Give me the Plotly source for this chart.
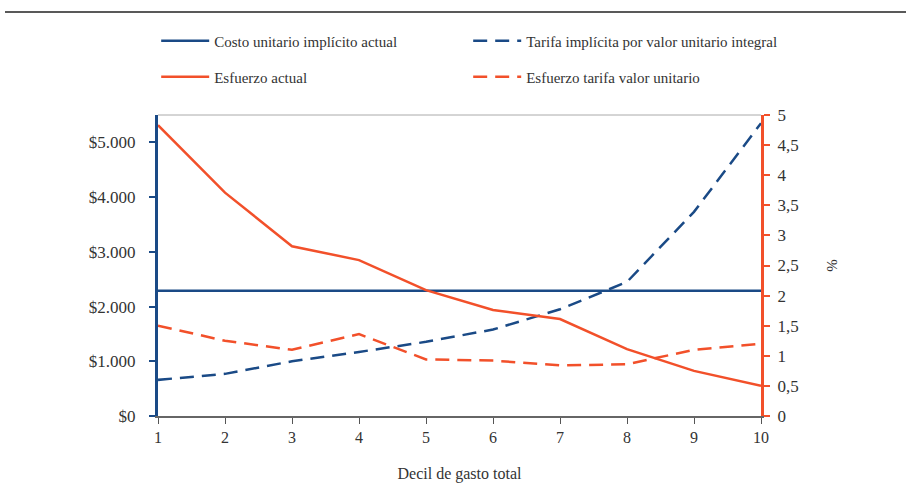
import plotly.graph_objects as go

deciles = [1, 2, 3, 4, 5, 6, 7, 8, 9, 10]
costo_actual = [2290, 2290, 2290, 2290, 2290, 2290, 2290, 2290, 2290, 2290]
tarifa_integral = [660, 770, 1000, 1170, 1355, 1580, 1950, 2450, 3730, 5350]
esfuerzo_actual = [4.83, 3.71, 2.82, 2.59, 2.09, 1.76, 1.61, 1.11, 0.75, 0.50]
esfuerzo_tarifa = [1.50, 1.25, 1.10, 1.36, 0.94, 0.92, 0.84, 0.86, 1.10, 1.20]
y_left_ticks = [0, 1000, 2000, 3000, 4000, 5000]
y_left_labels = ["$0", "$1.000", "$2.000", "$3.000", "$4.000", "$5.000"]

BLUE = "#1A4A86"
ORANGE = "#F2502A"
TXT = "#333333"
FONT = "'Liberation Serif', 'DejaVu Serif', serif"

fig = go.Figure()
fig.add_trace(go.Scatter(x=deciles, y=costo_actual, mode="lines",
                         name="Costo unitario implícito actual",
                         line=dict(color=BLUE, width=2.5), legend="legend"))
fig.add_trace(go.Scatter(x=deciles, y=tarifa_integral, mode="lines",
                         name="Tarifa implícita por valor unitario integral",
                         line=dict(color=BLUE, width=2.5, dash="14px,8px"), legend="legend"))
fig.add_trace(go.Scatter(x=deciles, y=esfuerzo_actual, mode="lines",
                         name="Esfuerzo actual", yaxis="y2",
                         line=dict(color=ORANGE, width=2.5), legend="legend2"))
fig.add_trace(go.Scatter(x=deciles, y=esfuerzo_tarifa, mode="lines",
                         name="Esfuerzo tarifa valor unitario", yaxis="y2",
                         line=dict(color=ORANGE, width=2.5, dash="14px,8px"), legend="legend2"))

legend_common = dict(orientation="h", xanchor="left", yanchor="middle",
                     x=-0.003, entrywidth=249, itemwidth=48,
                     font=dict(family=FONT, size=15, color=TXT),
                     bgcolor="rgba(0,0,0,0)", traceorder="normal")

fig.update_layout(
    width=906, height=497,
    margin=dict(l=158, r=145, t=115, b=81),
    paper_bgcolor="white", plot_bgcolor="white",
    separators=",.",
    font=dict(family=FONT, size=15, color=TXT),
    showlegend=True,
    legend=dict(**legend_common, y=(416 - 41) / 301),
    legend2=dict(**legend_common, y=(416 - 77) / 301),
    xaxis=dict(range=[1, 10], tickmode="array", tickvals=deciles,
               showgrid=False, zeroline=False,
               showline=True, linecolor="#666666", linewidth=1.5,
               ticks="outside", ticklen=6, tickcolor="#555555",
               tickfont=dict(family=FONT, size=16, color=TXT),
               title=dict(text="Decil de gasto total", standoff=23,
                          font=dict(family=FONT, size=16, color=TXT))),
    yaxis=dict(range=[0, 5500], tickmode="array", tickvals=y_left_ticks,
               ticktext=y_left_labels,
               showgrid=False, zeroline=False,
               showline=True, linecolor=BLUE, linewidth=3,
               ticks="outside", ticklen=6, tickcolor=BLUE, tickwidth=2,
               ticklabelstandoff=10,
               tickfont=dict(family=FONT, size=17, color=TXT)),
    yaxis2=dict(range=[0, 5], dtick=0.5, overlaying="y", side="right",
                showgrid=False, zeroline=False,
                showline=True, linecolor=ORANGE, linewidth=3,
                ticks="outside", ticklen=6, tickcolor=ORANGE, tickwidth=2,
                ticklabelstandoff=4,
                tickfont=dict(family=FONT, size=17, color=TXT),
                title=dict(text="%", standoff=29,
                           font=dict(family=FONT, size=15, color=TXT))),
    shapes=[
        dict(type="line", xref="paper", yref="paper",
             x0=(5 - 158) / 603, x1=(906 - 158) / 603,
             y0=(416 - 12) / 301, y1=(416 - 12) / 301,
             line=dict(color="#222222", width=1.5)),
        dict(type="line", xref="paper", yref="paper", x0=0, x1=1, y0=1, y1=1,
             line=dict(color="#AAAAAA", width=1), layer="below"),
    ],
)

fig.write_html("out.html", config={"displayModeBar": False},
               post_script="document.body.style.margin='0';")
